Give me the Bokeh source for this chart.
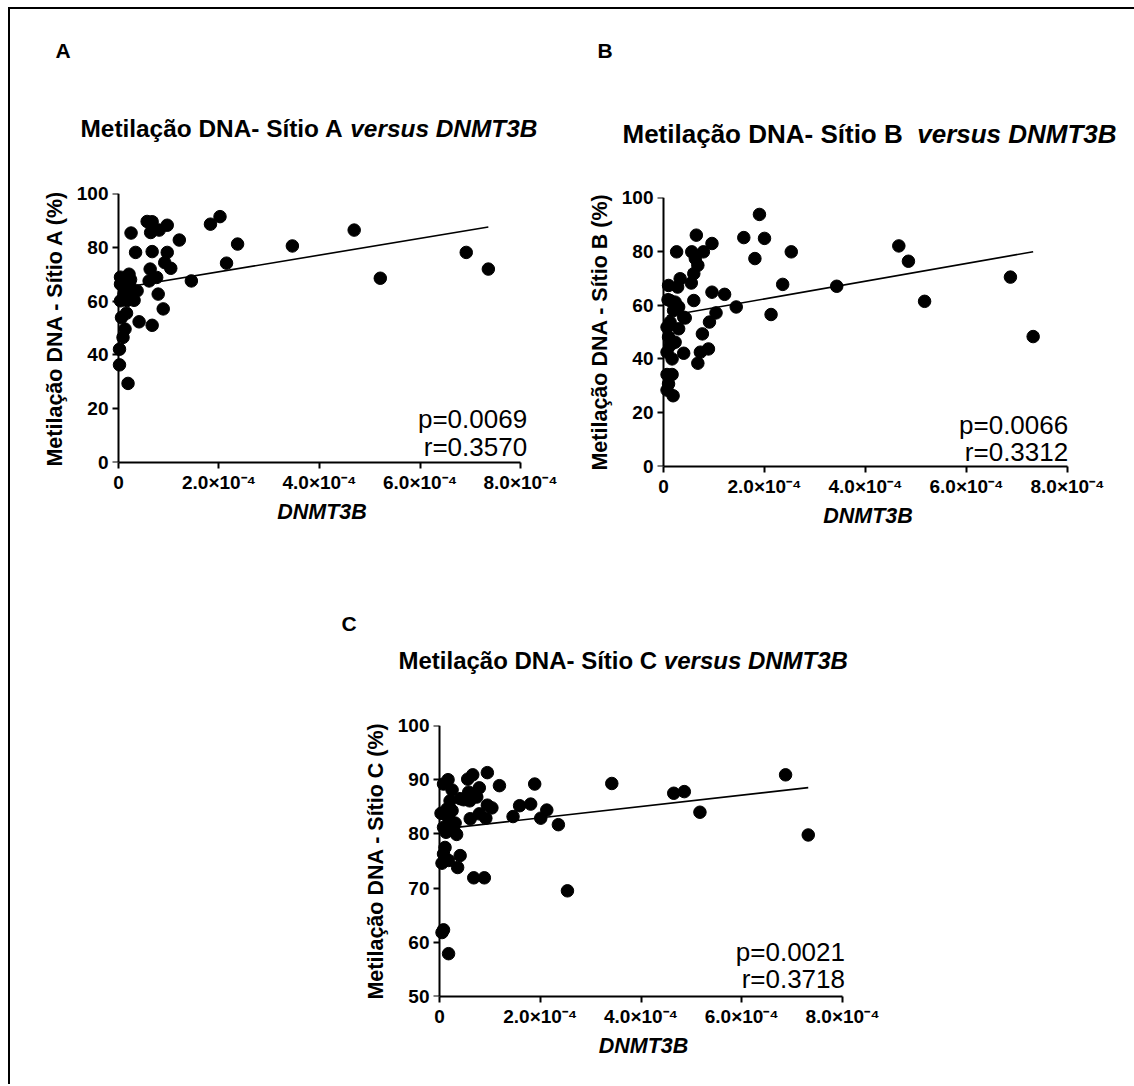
import numpy as np
from bokeh.plotting import figure
from bokeh.models import Range1d, FixedTicker, CustomJSTickFormatter, Label, Spacer, LinearAxis
from bokeh.layouts import row, column
from bokeh.embed import file_html
from bokeh.resources import INLINE

UNIT = 1e-4  # DNMT3B values below are given in units of 1e-4

# ---------------- data ----------------
a_x = [0.02, 0.02, 0.19, 0.09, 0.13, 0.06, 0.16, 0.04, 0.11, 0.04, 0.09, 0.21, 0.24,
       0.31, 0.37, 0.27, 0.41, 0.67, 0.79, 0.89, 0.61, 0.63, 0.76, 0.67, 0.92, 1.04,
       0.97, 0.34, 0.25, 0.57, 0.67, 0.64, 0.81, 0.97, 1.21, 1.45, 1.83, 2.02, 2.15,
       2.37, 3.46, 4.69, 5.21, 6.92, 7.36, 0.04, 0.17, 0.27, 0.07, 0.13, 0.22]
a_y = [42.1, 36.3, 29.4, 46.5, 49.6, 53.9, 55.5, 60.1, 62.6, 66.3, 67.5, 70.0, 68.0,
       60.3, 63.8, 63.8, 52.3, 51.0, 62.6, 57.1, 67.5, 71.9, 68.8, 78.4, 74.3, 72.2,
       78.1, 78.1, 85.3, 89.6, 89.5, 85.5, 86.4, 88.2, 82.7, 67.5, 88.6, 91.4, 74.1,
       81.2, 80.5, 86.4, 68.5, 78.1, 71.9, 68.9, 60.2, 61.5, 67.0, 65.0, 66.5]

b_x = [7.32, 6.87, 5.17, 4.85, 4.66, 3.43, 2.53, 2.36, 2.13, 2.00, 1.90, 1.81, 1.59,
       1.44, 1.21, 1.04, 0.96, 0.96, 0.91, 0.89, 0.79, 0.77, 0.73, 0.68, 0.65, 0.68,
       0.63, 0.60, 0.60, 0.55, 0.56, 0.40, 0.43, 0.33, 0.28, 0.26, 0.30, 0.23, 0.30,
       0.23, 0.19, 0.17, 0.07, 0.07, 0.10, 0.10, 0.13, 0.09, 0.07, 0.10, 0.13, 0.07,
       0.13, 0.40, 0.20, 0.17]
b_y = [48.3, 70.4, 61.4, 76.3, 82.0, 67.0, 79.8, 67.7, 56.5, 84.8, 93.7, 77.3, 85.1,
       59.3, 64.0, 57.1, 64.8, 82.9, 53.7, 43.7, 79.8, 49.3, 42.5, 38.4, 86.0, 74.8,
       77.3, 61.7, 71.7, 68.2, 79.8, 42.1, 55.2, 69.8, 66.7, 79.8, 59.3, 61.1, 51.2,
       46.2, 26.3, 34.2, 34.2, 28.4, 30.7, 67.3, 61.7, 62.0, 51.8, 48.1, 45.0, 42.5,
       53.7, 55.5, 58.0, 40.0]

c_x = [7.32, 6.87, 5.17, 4.86, 4.65, 3.42, 2.54, 2.36, 2.13, 2.01, 1.89, 1.81, 1.59,
       1.46, 1.19, 1.04, 0.95, 0.95, 0.92, 0.89, 0.79, 0.79, 0.74, 0.68, 0.66, 0.61,
       0.60, 0.56, 0.58, 0.41, 0.36, 0.34, 0.31, 0.25, 0.18, 0.08, 0.05, 0.17, 0.21,
       0.18, 0.11, 0.08, 0.05, 0.03, 0.08, 0.13, 0.18, 0.41, 0.48, 0.08, 0.15, 0.25,
       0.28]
c_y = [79.8, 90.9, 84.0, 87.8, 87.5, 89.3, 69.5, 81.7, 84.4, 82.9, 89.2, 85.5, 85.2,
       83.2, 88.9, 84.8, 85.3, 91.3, 82.9, 71.9, 83.7, 88.5, 86.8, 71.9, 90.9, 82.8,
       86.1, 90.1, 87.7, 76.0, 73.8, 79.9, 82.0, 88.1, 57.9, 62.3, 61.8, 90.0, 86.1,
       75.1, 77.5, 76.3, 74.6, 83.8, 81.2, 80.3, 82.9, 86.5, 86.3, 89.2, 84.6, 84.3,
       81.2]

# linear fits: (intercept, slope per 1e-4)
a_fit = (64.7, 3.10)
b_fit = (55.7, 3.30)
c_fit = (80.85, 1.05)

a_stats = ["p=0.0069", "r=0.3570"]
b_stats = ["p=0.0066", "r=0.3312"]
c_stats = ["p=0.0021", "r=0.3718"]

x_ticks = [0, 2, 4, 6, 8]
ab_y_ticks = [0, 20, 40, 60, 80, 100]
c_y_ticks = [50, 60, 70, 80, 90, 100]

titles_bold = ["Metilação DNA- Sítio A", "Metilação DNA- Sítio B", "Metilação DNA- Sítio C"]
title_italic = "versus DNMT3B"
y_labels = ["Metilação DNA - Sítio A (%)", "Metilação DNA - Sítio B (%)",
            "Metilação DNA - Sítio C (%)"]
letters = ["A", "B", "C"]

FONT = "Liberation Sans"
PAD_L = 7    # px of frame left of x = 0 (so dots at 0 are not cut)
PAD_R = 12   # px of frame right of x = 8e-4 (room for the p / r text)
TICK_FS = "19px"
AXLAB_FS = "21.5px"
STAT_FS = 26
LETTER_FS = 21


def make_panel(xs, ys, fit, stats, yticks, ylabel, geo):
    cx0, cy0, cw, ch = geo["canvas"]
    x0px, ppu = geo["x0px"], geo["ppu"]
    ytop, ybot = geo["ytop"], geo["ybot"]
    xend_px = x0px + 8 * ppu
    y0, y1 = yticks[0], yticks[-1]

    def dx(px):
        return (px - x0px) / ppu * UNIT

    def dy(py):
        return y0 + (ybot - py) / (ybot - ytop) * (y1 - y0)

    p = figure(width=cw, height=ch, output_backend="svg", toolbar_location=None,
               x_range=Range1d(dx(x0px - PAD_L), dx(xend_px + PAD_R)),
               y_range=Range1d(y0, y1),
               min_border_left=int(round(x0px - PAD_L - cx0)),
               min_border_right=int(round(cx0 + cw - xend_px - PAD_R)),
               min_border_top=int(round(ytop - cy0)),
               min_border_bottom=int(round(cy0 + ch - ybot)))
    p.grid.visible = False
    p.outline_line_color = None

    p.scatter(np.array(xs) * UNIT, ys, size=12.5, color="black")
    b, m = fit
    lx = np.array([min(xs), max(xs)])
    p.line(lx * UNIT, b + m * lx, line_color="black", line_width=1.6)

    # x axis
    xa = p.xaxis[0]
    xa.ticker = FixedTicker(ticks=[t * UNIT for t in x_ticks])
    xa.formatter = CustomJSTickFormatter(code="""
        if (Math.abs(tick) < 1e-12) { return "0"; }
        return (tick / 1e-4).toFixed(1) + "\u00d710\u207b\u2074";
    """)
    xa.bounds = (0, 8 * UNIT)
    xa.axis_line_width = 2
    xa.major_tick_line_width = 2
    xa.major_tick_out = 6
    xa.major_tick_in = 0
    xa.minor_tick_line_color = None
    xa.major_label_text_font = FONT
    xa.major_label_text_font_style = "bold"
    xa.major_label_text_font_size = TICK_FS
    xa.major_label_text_color = "black"
    xa.major_label_standoff = 3
    xa.axis_label = "DNMT3B"
    xa.axis_label_text_font = FONT
    xa.axis_label_text_font_style = "bold italic"
    xa.axis_label_text_font_size = AXLAB_FS
    xa.axis_label_text_color = "black"
    xa.axis_label_standoff = 4

    # y axis: labels at the frame edge ...
    ya = p.yaxis[0]
    ya.ticker = FixedTicker(ticks=yticks)
    ya.axis_line_color = None
    ya.major_tick_line_color = None
    ya.minor_tick_line_color = None
    ya.major_tick_out = 0
    ya.major_tick_in = 0
    ya.major_label_standoff = 10 - PAD_L
    ya.major_label_text_font = FONT
    ya.major_label_text_font_style = "bold"
    ya.major_label_text_font_size = TICK_FS
    ya.major_label_text_color = "black"
    ya.axis_label = ylabel
    ya.axis_label_text_font = FONT
    ya.axis_label_text_font_style = "bold"
    ya.axis_label_text_font_size = AXLAB_FS
    ya.axis_label_text_color = "black"
    ya.axis_label_standoff = 7
    # ... and its line and ticks at x = 0
    yl = LinearAxis(ticker=FixedTicker(ticks=yticks), fixed_location=0,
                    bounds=(y0, y1), axis_line_width=2, major_tick_line_width=2,
                    major_tick_out=6, major_tick_in=0, minor_tick_line_color=None,
                    major_label_text_alpha=0, major_label_text_font_size="1px")
    p.add_layout(yl, "left")

    sx = geo["stats_right"]
    for txt, cyy in zip(stats, geo["stats_mid"]):
        p.add_layout(Label(x=dx(sx), y=dy(cyy), text=txt, text_align="right",
                           text_baseline="middle", text_font=FONT,
                           text_font_size=f"{STAT_FS}px", text_color="black"))
    return p


def make_header(w, h, items):
    # items: (x, middle_y, text, style, size) in pixels of this header
    t = figure(width=w, height=h, output_backend="svg", toolbar_location=None,
               x_range=Range1d(0, w), y_range=Range1d(h, 0),
               x_axis_type=None, y_axis_type=None, min_border=0)
    t.grid.visible = False
    t.outline_line_color = None
    for (x, ym, txt, style, size) in items:
        t.add_layout(Label(x=x, y=ym, text=txt, text_align="left",
                           text_baseline="middle", text_font=FONT,
                           text_font_style=style, text_font_size=f"{size}px",
                           text_color="black"))
    return t


BOLD_W = 10.779  # em width of "Metilação DNA- Sítio X" in Arial bold
SP = 0.278       # em width of a space


def title_items(ox, oy, left, mid, fs, nspace, bold, letter, lx, lm):
    split = left + BOLD_W * fs + nspace * SP * fs
    return [
        (lx - ox, lm - oy, letter, "bold", LETTER_FS),
        (left - ox, mid - oy, bold, "bold", fs),
        (split - ox, mid - oy, title_italic, "bold italic", fs),
    ]


# page geometry (pixels)
TOP = 9
LEFT = 10
HEAD_H = 150
ROW1_H = 430
B_DROP = 4
HEADC_H = 111
ROWC_H = 384
C_SHIFT = 300

geoA = dict(canvas=(LEFT, TOP + HEAD_H, 560, ROW1_H), x0px=118, ppu=50.3,
            ytop=193, ybot=462, stats_right=527, stats_mid=(418.5, 446))
geoB = dict(canvas=(LEFT + 560, TOP + HEAD_H + B_DROP, 564, ROW1_H - B_DROP),
            x0px=663.3, ppu=50.5, ytop=197.3, ybot=465.7, stats_right=1068,
            stats_mid=(424, 451))
cy = TOP + HEAD_H + ROW1_H + HEADC_H
geoC = dict(canvas=(LEFT + C_SHIFT, cy, 600, ROWC_H), x0px=439.3, ppu=50.4,
            ytop=725, ybot=996, stats_right=845, stats_mid=(951, 978))

pA = make_panel(a_x, a_y, a_fit, a_stats, ab_y_ticks, y_labels[0], geoA)
pB = make_panel(b_x, b_y, b_fit, b_stats, ab_y_ticks, y_labels[1], geoB)
pC = make_panel(c_x, c_y, c_fit, c_stats, c_y_ticks, y_labels[2], geoC)

hA = make_header(560, HEAD_H, title_items(LEFT, TOP, 80, 128, 24.4, 1,
                                          titles_bold[0], letters[0], 55, 50))
hB = make_header(564, HEAD_H, title_items(LEFT + 560, TOP, 622, 133, 26, 2,
                                          titles_bold[1], letters[1], 597, 50))
hC = make_header(600, HEADC_H, title_items(LEFT + C_SHIFT, TOP + HEAD_H + ROW1_H,
                                           398, 660, 24, 1,
                                           titles_bold[2], letters[2], 341, 623))

layout = column(row(hA, hB),
                row(pA, column(Spacer(width=564, height=B_DROP), pB)),
                row(Spacer(width=C_SHIFT, height=HEADC_H), hC),
                row(Spacer(width=C_SHIFT, height=ROWC_H), pC),
                styles={"border-left": "2px solid black", "border-top": "2px solid black",
                        "margin-left": "8px", "margin-top": "7px",
                        "background-color": "white"})

open("out.html", "w").write(file_html(layout, INLINE, title="DNMT3B"))
